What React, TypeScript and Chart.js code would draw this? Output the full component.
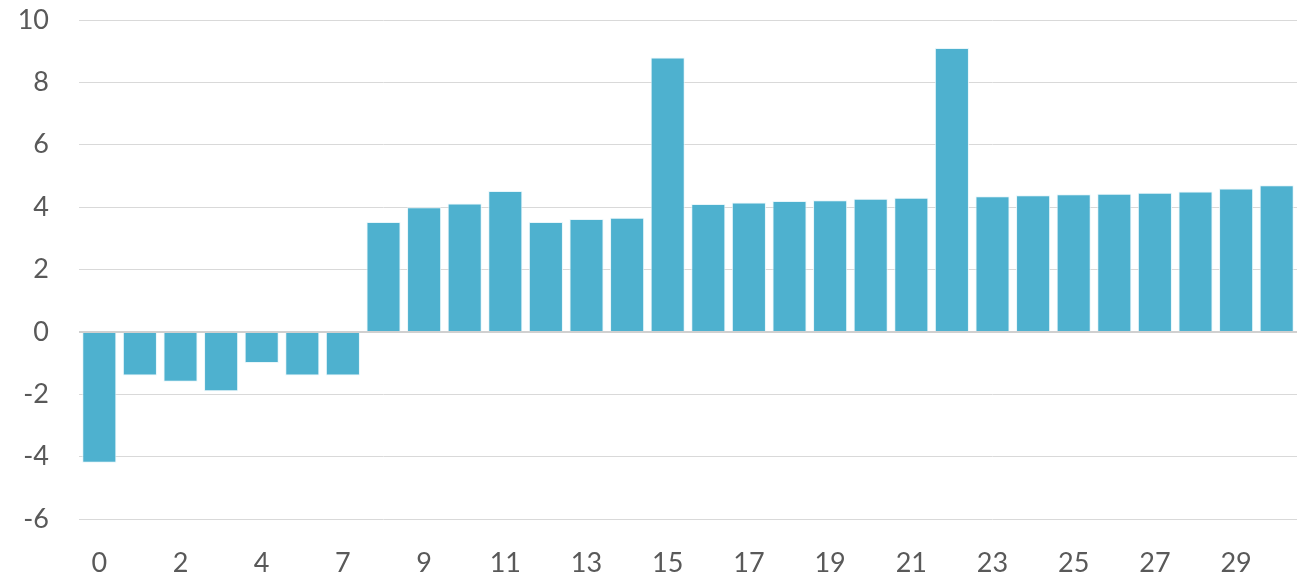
import React, { useEffect, useRef } from "react";
import { Chart, registerables } from "chart.js";

Chart.register(...registerables);

const categories: string[] = ["0","1","2","3","4","5","7","8","9","10","11","12","13","14","15","16","17","18","19","20","21","22","23","24","25","26","27","28","29","30"];
const values: number[] = [-4.2,-1.4,-1.6,-1.9,-1.0,-1.4,-1.4,3.52,4.0,4.12,4.52,3.52,3.62,3.66,8.8,4.1,4.15,4.2,4.22,4.27,4.3,9.1,4.35,4.38,4.41,4.43,4.46,4.5,4.6,4.7];
const yMin = -6;
const yMax = 10;
const yStep = 2;

export default function App() {
  const ref = useRef<HTMLCanvasElement | null>(null);
  useEffect(() => {
    if (!ref.current) return;
    const chart = new Chart(ref.current, {
      type: "bar",
      data: {
        labels: categories,
        datasets: [
          {
            data: values,
            backgroundColor: "#4EB1CF",
            borderColor: "rgba(230,245,250,0.9)",
            borderWidth: 1,
            categoryPercentage: 1,
            barPercentage: 0.84,
          },
        ],
      },
      options: {
        animation: false,
        responsive: false,
        maintainAspectRatio: false,
        layout: { padding: { top: 20, right: 6, left: 0, bottom: 0 } },
        plugins: { legend: { display: false }, tooltip: { enabled: false } },
        scales: {
          x: {
            grid: { display: false, drawTicks: false },
            border: { display: false },
            ticks: {
              autoSkip: false,
              maxRotation: 0,
              color: "#595959",
              font: { family: "Lato", size: 27 },
              padding: 28,
              callback: (_v: any, i: number) => (i % 2 === 0 ? categories[i] : ""),
            },
            afterFit: (s: any) => { s.height = 57; s.paddingLeft = 0; s.paddingRight = 0; },
          },
          y: {
            min: yMin,
            max: yMax,
            border: { display: false },
            grid: {
              drawTicks: false,
              color: (ctx: any) => (ctx.tick && ctx.tick.value === 0 ? "#d0d0d0" : "#d9d9d9"),
              lineWidth: (ctx: any) => (ctx.tick && ctx.tick.value === 0 ? 2 : 1),
            },
            ticks: {
              stepSize: yStep,
              color: "#595959",
              font: { family: "Lato", size: 27 },
              padding: 30,
            },
            afterFit: (s: any) => { s.width = 79; s.paddingTop = 0; s.paddingBottom = 0; },
          },
        },
      },
    });
    return () => chart.destroy();
  }, []);
  return (
    <div style={{ position: "absolute", left: 0, top: 0, width: 1303, height: 576, background: "#fff" }}>
      <canvas ref={ref} width={1303} height={576} style={{ display: "block" }} />
    </div>
  );
}
